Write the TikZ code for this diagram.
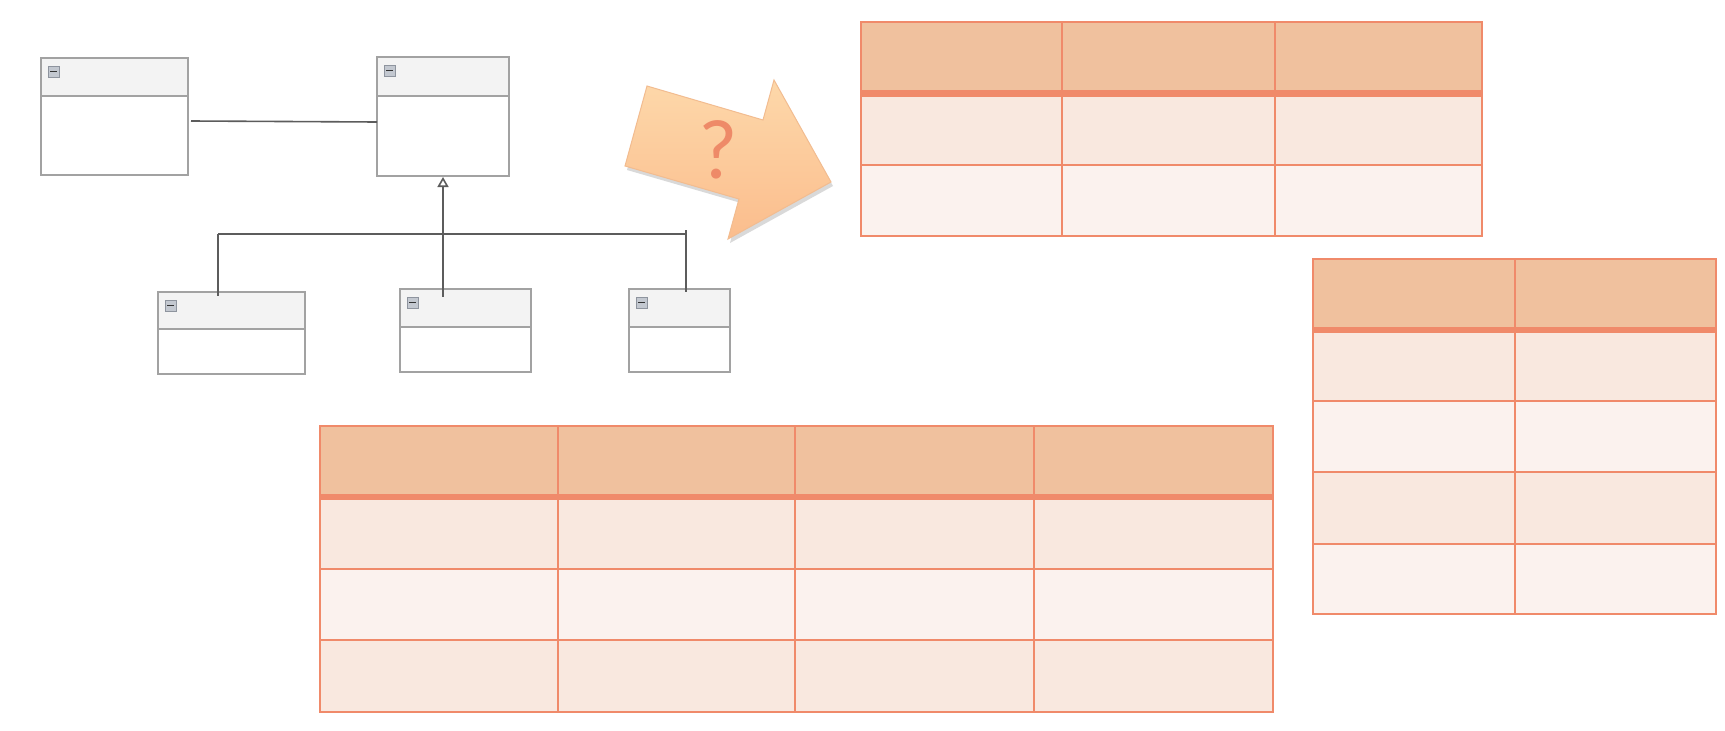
\documentclass[tikz,border=0pt]{standalone}
\usepackage{fontspec}
\newfontfamily\qfont{Lato}
\usetikzlibrary{arrows.meta,calc}
\definecolor{tborder}{HTML}{F08A6A}
\definecolor{thead}{HTML}{F0C19E}
\definecolor{trowa}{HTML}{F9E8DF}
\definecolor{trowb}{HTML}{FBF2EE}
\definecolor{umlborder}{HTML}{A2A2A2}
\definecolor{umlhead}{HTML}{F3F3F3}
\definecolor{conncol}{HTML}{5C5C5C}
\definecolor{arrtop}{HTML}{FDD8AA}
\definecolor{arrbot}{HTML}{FBBD8D}
\definecolor{arredge}{HTML}{F2BC90}
\definecolor{qcol}{HTML}{EE8A68}
\definecolor{iconfill}{HTML}{C3C8D0}
\definecolor{icondraw}{HTML}{8E949E}
\definecolor{icondark}{HTML}{333333}
\newcommand{\tablegrid}[7]{%
  \fill[thead] (#1,#4) rectangle (#2,#5);
  \foreach \yy/\cc [remember=\yy as \py (initially #5)] in {#6} {\fill[\cc] (#1,\py) rectangle (#2,\yy);}
  \foreach \yy/\cc in {#6} {\draw[tgrid] (#1,\yy) -- (#2,\yy);}
  \foreach \xx in {#3} {\draw[tgrid] (\xx,#4) -- (\xx,#7);}
  \draw[tgrid] (#1,#4) rectangle (#2,#7);
  \draw[tthick] (#1,#5) -- (#2,#5);
}
\newcommand{\umlclass}[6]{%
  \fill[white] (#2,#3) rectangle (#4,#5);
  \fill[umlhead] (#2,#3) rectangle (#4,#6);
  \draw[umldiv] (#2,#6) -- (#4,#6);
  \node[umlbox, minimum width={#4-#2}, minimum height={#5-#3}] (#1) at (#2,#3) {};
  \filldraw[fill=iconfill, draw=icondraw, line width=0.6pt] (#2+7,#3+8) rectangle (#2+18,#3+19);
  \fill[icondark] (#2+9,#3+12.7) rectangle (#2+16,#3+14.3);
}
\begin{document}
\begin{tikzpicture}[x=1pt,y=-1pt,
  umlbox/.style={draw=umlborder, line width=2pt, inner sep=0pt, outer sep=0pt, anchor=north west},
  umldiv/.style={draw=umlborder, line width=2pt},
  conn/.style={draw=conncol, line width=1.6pt},
  tgrid/.style={draw=tborder, line width=2pt},
  tthick/.style={draw=tborder, line width=6.5pt}]
\fill[white] (0,0) rectangle (1725,731);
\useasboundingbox (0,0) rectangle (1725,731);

% UML classes
\umlclass{A}{41}{58}{188}{175}{96}
\umlclass{B}{377}{57}{509}{176}{96}
\umlclass{C}{158}{292}{305}{374}{329}
\umlclass{D}{400}{289}{531}{372}{327}
\umlclass{E}{629}{289}{730}{372}{327}

% connectors
\coordinate (jl) at (218,234);
\coordinate (jm) at (443,234);
\coordinate (jr) at (686,234);
\draw[conn] ([xshift=3pt,yshift=-4.5pt]A.east) -- ([yshift=-5.5pt]B.west);
\draw[conn] (jl) -- (jr);
\draw[conn] (jl) -- ([yshift=-4pt]C.north -| jl);
\draw[conn] (jm) -- ([yshift=-8pt]D.north -| jm);
\draw[conn] ([yshift=4pt]jr) -- ([yshift=-3pt]E.north -| jr);
\draw[conn,-{Triangle[open,length=10pt,width=11pt,fill=white]}] (jm) -- ([yshift=-1pt]B.south);

% big arrow with question mark
\fill[black, opacity=0.15, shift={(2,4)}] (647,86) -- (763,120) -- (774,80) -- (831,182) -- (728,239) -- (739,199) -- (625,166) -- cycle;
\shade[top color=arrtop, bottom color=arrbot, draw=arredge, line width=1pt] (647,86) -- (763,120) -- (774,80) -- (831,182) -- (728,239) -- (739,199) -- (625,166) -- cycle;
\node[text=qcol, font=\qfont\fontsize{80}{80}\selectfont, inner sep=0pt] (qmark) at (718,150) {?};

% tables
\tablegrid{861}{1482}{1062,1275}{22}{93.5}{165/trowa,236/trowb}{236}
\tablegrid{1313}{1716}{1515}{259}{330}{401/trowa,472/trowb,544/trowa,614/trowb}{614}
\tablegrid{320}{1273}{558,795,1034}{426}{497}{569/trowa,640/trowb,712/trowa}{712}
\end{tikzpicture}
\end{document}
